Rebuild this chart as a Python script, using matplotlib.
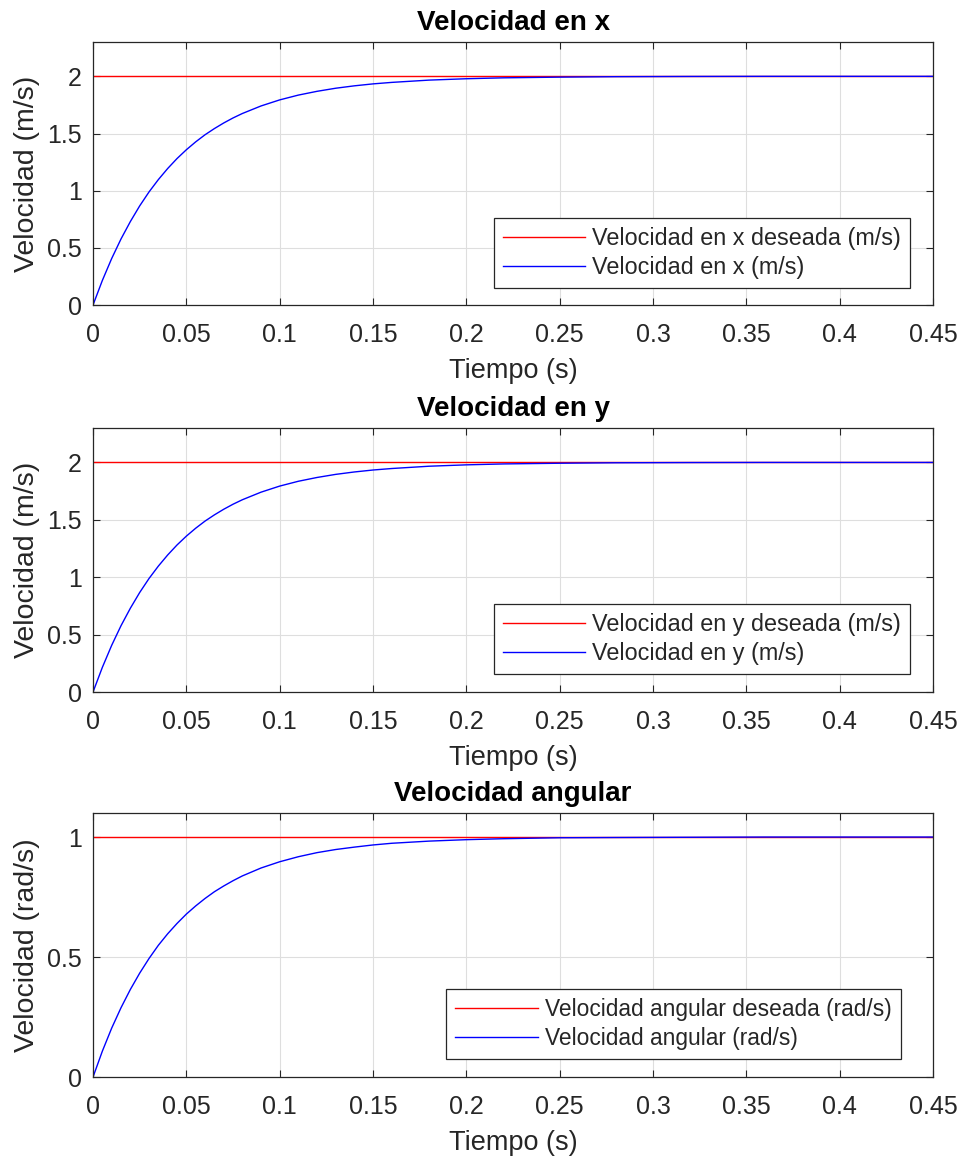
import matplotlib
matplotlib.use("Agg")
import matplotlib.pyplot as plt

plt.rcParams['font.family'] = ['Liberation Sans', 'DejaVu Sans']

# tiempo de muestreo (s)
t = [0, 0.005, 0.01, 0.015, 0.02, 0.025, 0.03, 0.035, 0.04, 0.045, 0.05,
     0.055, 0.06, 0.065, 0.07, 0.075, 0.08, 0.09, 0.10, 0.11, 0.12, 0.13,
     0.14, 0.15, 0.16, 0.18, 0.20, 0.22, 0.25, 0.28, 0.32, 0.36, 0.45]

vx = [0, 0.215, 0.407, 0.578, 0.730, 0.867, 0.989, 1.097, 1.194, 1.281, 1.358,
      1.427, 1.489, 1.543, 1.592, 1.636, 1.675, 1.741, 1.794, 1.836, 1.869, 1.896,
      1.917, 1.934, 1.947, 1.967, 1.979, 1.987, 1.993, 1.997, 1.999, 2.0, 2.0]
vy = [0, 0.215, 0.407, 0.578, 0.730, 0.867, 0.989, 1.097, 1.194, 1.281, 1.358,
      1.427, 1.489, 1.543, 1.592, 1.636, 1.675, 1.741, 1.794, 1.836, 1.869, 1.896,
      1.917, 1.934, 1.947, 1.967, 1.979, 1.987, 1.993, 1.997, 1.999, 2.0, 2.0]
w = [0, 0.108, 0.204, 0.289, 0.365, 0.433, 0.494, 0.549, 0.597, 0.640, 0.679,
     0.713, 0.744, 0.772, 0.796, 0.818, 0.838, 0.871, 0.897, 0.918, 0.935, 0.948,
     0.958, 0.967, 0.974, 0.983, 0.989, 0.993, 0.997, 0.998, 0.999, 1.0, 1.0]

t_ref = [0, 0.45]
vx_ref = [2, 2]
vy_ref = [2, 2]
w_ref = [1, 1]

titles = ['Velocidad en x', 'Velocidad en y', 'Velocidad angular']
ylabels = ['Velocidad (m/s)', 'Velocidad (m/s)', 'Velocidad (rad/s)']
leg_ref = ['Velocidad en x deseada (m/s)', 'Velocidad en y deseada (m/s)',
           'Velocidad angular deseada (rad/s)']
leg_val = ['Velocidad en x (m/s)', 'Velocidad en y (m/s)', 'Velocidad angular (rad/s)']
ylims = [2.3, 2.3, 1.1]
yticks = [[0, 0.5, 1, 1.5, 2], [0, 0.5, 1, 1.5, 2], [0, 0.5, 1]]
xticks = [0, 0.05, 0.1, 0.15, 0.2, 0.25, 0.3, 0.35, 0.4, 0.45]

dark = '#262626'
fig = plt.figure(figsize=(9.63, 11.58), dpi=100)
positions = [[0.0966, 0.7366, 0.8723, 0.2271],
             [0.0966, 0.4024, 0.8723, 0.2280],
             [0.0966, 0.0699, 0.8723, 0.2280]]
legpos = [(0.9726, 0.0646), (0.9726, 0.068), (0.962, 0.068)]
legsize = [16.8, 16.8, 16.4]
handlelen = [3.5, 3.5, 3.65]

series = [(vx_ref, vx), (vy_ref, vy), (w_ref, w)]
for i in range(3):
    ax = fig.add_axes(positions[i])
    ref, val = series[i]
    ax.plot(t_ref, ref, color='red', lw=1.0, label=leg_ref[i])
    ax.plot(t, val, color='blue', lw=1.0, label=leg_val[i])
    ax.set_xlim(0, 0.45)
    ax.set_ylim(0, ylims[i])
    ax.set_xticks(xticks)
    ax.set_xticklabels(['0', '0.05', '0.1', '0.15', '0.2', '0.25', '0.3', '0.35', '0.4', '0.45'])
    ax.set_yticks(yticks[i])
    ax.set_yticklabels([f'{v:g}' for v in yticks[i]])
    ax.grid(True, color='#dedede', lw=0.8)
    ax.set_axisbelow(True)
    ax.tick_params(direction='in', top=True, right=True, length=5, width=0.8,
                   labelsize=18, colors=dark, labelcolor=dark)
    ax.tick_params(axis='x', pad=13)
    ax.tick_params(axis='y', pad=8)
    for s in ax.spines.values():
        s.set_color(dark)
        s.set_linewidth(0.9)
    ax.set_title(titles[i], fontsize=20, fontweight='bold', color='black', pad=8.5)
    ax.set_xlabel('Tiempo (s)', fontsize=19.5, color=dark, labelpad=8)
    ax.set_ylabel(ylabels[i], fontsize=20.5, color=dark, labelpad=5)
    leg = ax.legend(loc='lower right', bbox_to_anchor=legpos[i], borderaxespad=0,
                    fontsize=legsize[i], fancybox=False, framealpha=1, edgecolor=dark,
                    handlelength=handlelen[i], handletextpad=0.3, labelspacing=0.25,
                    borderpad=0.4)
    leg.get_frame().set_linewidth(0.9)
    for txt in leg.get_texts():
        txt.set_color(dark)

fig.savefig('out.png', dpi=100)
